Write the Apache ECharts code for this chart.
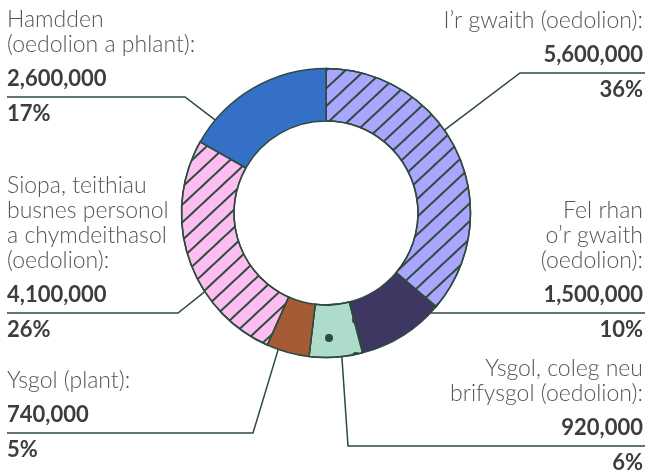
<!DOCTYPE html>
<html><head><meta charset="utf-8">
<script src="https://cdn.jsdelivr.net/npm/echarts@6/dist/echarts.min.js"></script>
<style>html,body{margin:0;padding:0;background:#fff}#c{width:648px;height:472px}</style>
</head><body><div id="c"></div>
<script>
// ---- data ----
const categories = [
  "I’r gwaith (oedolion):",
  "Fel rhan\no’r gwaith\n(oedolion):",
  "Ysgol, coleg neu\nbrifysgol (oedolion):",
  "Ysgol (plant):",
  "Siopa, teithiau\nbusnes personol\na chymdeithasol\n(oedolion):",
  "Hamdden\n(oedolion a phlant):"
];
const values = [5600000, 1500000, 920000, 740000, 4100000, 2600000];
const percentLabels = ["36%", "10%", "6%", "5%", "26%", "17%"];

// ---- styles / layout ----
const colors = ["#aaa5fd", "#3e3762", "#addccb", "#a65b37", "#fdbdf0", "#3470c6"];
const strokeColor = "#2d4a3f";
const hatch = {symbol: 'rect', symbolSize: 1, dashArrayX: [1, 0], dashArrayY: [2, 10.4], rotation: -0.75, color: strokeColor};
const dots = {symbol: 'circle', symbolSize: 1,
  dashArrayX: [[0, 54], [0, 1, 8, 45], [0, 28, 8, 18]],
  dashArrayY: [0, 10, 8, 10, 8, 0], rotation: 0, color: strokeColor};
const decals = [hatch, null, dots, null, hatch, null];
const CX = 326, CY = 213, R_IN = 92, R_OUT = 144.5;
const labelLayoutCfg = [
  {align: 'right', x: 643, lineY: 73, angle: 55, elbow: [520, 73], end: 645},
  {align: 'right', x: 643, lineY: 313, angle: 133.8, elbow: null, end: 645},
  {align: 'right', x: 643, lineY: 446, angle: 173.7, elbow: [348, 446], end: 645},
  {align: 'left', x: 7, lineY: 433, angle: 199.3, elbow: [253, 433], end: 7},
  {align: 'left', x: 7, lineY: 313, angle: 237, elbow: [178, 313], end: 7},
  {align: 'left', x: 7, lineY: 97, angle: 310, elbow: [185, 97], end: 7}
];
const LH_NAME = 25, LH_VAL = 43, LH_PCT = 27, VAL_ABOVE_LINE = 18;
const FONT = 'Lato';

const chart = echarts.init(document.getElementById('c'), null, {renderer: 'canvas'});
const fmt = v => v.toLocaleString('en-US');

chart.setOption({
  animation: false,
  backgroundColor: '#ffffff',
  series: [{
    type: 'pie',
    center: [CX, CY],
    radius: [R_IN, R_OUT],
    startAngle: 90,
    clockwise: true,
    avoidLabelOverlap: false,
    silent: true,
    data: values.map((v, i) => ({
      value: v,
      name: categories[i],
      itemStyle: Object.assign({color: colors[i]}, decals[i] ? {decal: decals[i]} : {})
    })),
    itemStyle: {borderColor: strokeColor, borderWidth: 1.5},
    label: {
      show: true,
      position: 'outside',
      formatter: p => {
        const lines = categories[p.dataIndex].split('\n').map(s => '{n|' + s + '}');
        return lines.join('\n') + '\n{v|' + fmt(values[p.dataIndex]) + '}\n{p|' + percentLabels[p.dataIndex] + '}';
      },
      rich: {
        n: {fontFamily: FONT, fontSize: 23, fontWeight: 300, color: '#555555', lineHeight: LH_NAME},
        v: {fontFamily: FONT, fontSize: 22, fontWeight: 'bold', color: '#3d3d3d', lineHeight: LH_VAL},
        p: {fontFamily: FONT, fontSize: 22, fontWeight: 'bold', color: '#3d3d3d', lineHeight: LH_PCT}
      }
    },
    labelLine: {show: true, lineStyle: {color: strokeColor, width: 1.5}},
    labelLayout: function (params) {
      const c = labelLayoutCfg[params.dataIndex];
      const n = categories[params.dataIndex].split('\n').length;
      const top = c.lineY - VAL_ABOVE_LINE - LH_VAL / 2 - LH_NAME * n;
      const a = c.angle * Math.PI / 180;
      const start = [CX + R_OUT * Math.sin(a), CY - R_OUT * Math.cos(a)];
      const elbow = c.elbow || start;
      return {
        x: c.x, y: top, align: c.align, verticalAlign: 'top',
        labelLinePoints: [start, elbow, [c.end, c.lineY]]
      };
    }
  }]
});
</script></body></html>
